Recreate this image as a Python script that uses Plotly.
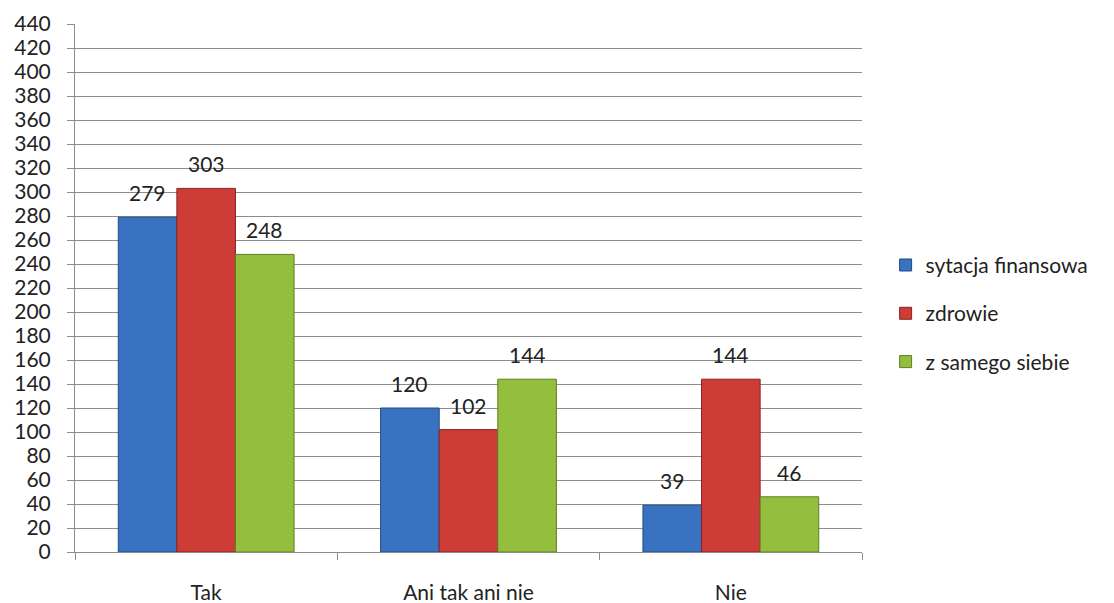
import plotly.graph_objects as go

categories = ["Tak", "Ani tak ani nie", "Nie"]
series_names = ["sytacja finansowa", "zdrowie", "z samego siebie"]
finanse = [279, 120, 39]
zdrowie = [303, 102, 144]
samo = [248, 144, 46]
y_ticks = list(range(0, 441, 20))

series_values = [finanse, zdrowie, samo]
colors = ["#3A72C2", "#CD3C37", "#93BE3E"]
edges = ["#1F4A85", "#8A2220", "#5E7E22"]

FONT = "Lato, 'Open Sans', sans-serif"
BARGAP = 0.33

fig = go.Figure()
for name, vals, c, e in zip(series_names, series_values, colors, edges):
    fig.add_trace(go.Bar(
        x=categories, y=vals, name=name, legendgroup=name,
        marker=dict(color=c, line=dict(color=e, width=1)),
    ))

n = len(series_names)
w = (1 - BARGAP) / n
annotations = []
for j, vals in enumerate(series_values):
    for i, v in enumerate(vals):
        annotations.append(dict(
            x=i + (j - (n - 1) / 2) * w, y=v, xref="x", yref="y",
            text=str(v), showarrow=False, yanchor="bottom", yshift=10,
            font=dict(family=FONT, size=21, color="#222222"),
        ))

fig.update_layout(
    width=1106, height=595,
    margin=dict(l=67, r=252, t=16, b=51, autoexpand=False),
    paper_bgcolor="white", plot_bgcolor="white",
    barmode="group", bargap=BARGAP, bargroupgap=0,
    font=dict(family=FONT, size=21, color="#222222"),
    legend=dict(x=1.03, y=0.452, xanchor="left", yanchor="middle",
                font=dict(family=FONT, size=21, color="#222222"),
                tracegroupgap=18, itemwidth=30),
    annotations=annotations,
    showlegend=True,
)
fig.update_yaxes(
    range=[0, 440], tickvals=y_ticks, ticktext=[str(t) for t in y_ticks],
    showgrid=True, gridcolor="#8C8C8C", gridwidth=1,
    zeroline=False, showline=True, linecolor="#8C8C8C", linewidth=1,
    ticks="outside", ticklen=7, tickcolor="#8C8C8C",
    ticklabelstandoff=12, automargin=False,
    tickfont=dict(family=FONT, size=21, color="#222222"),
)
fig.update_xaxes(
    showline=True, linecolor="#8C8C8C", linewidth=1,
    ticks="outside", tickson="boundaries", ticklen=7, tickcolor="#8C8C8C",
    ticklabelstandoff=22, automargin=False,
    tickfont=dict(family=FONT, size=21, color="#222222"),
)

fig.write_html("out.html")
